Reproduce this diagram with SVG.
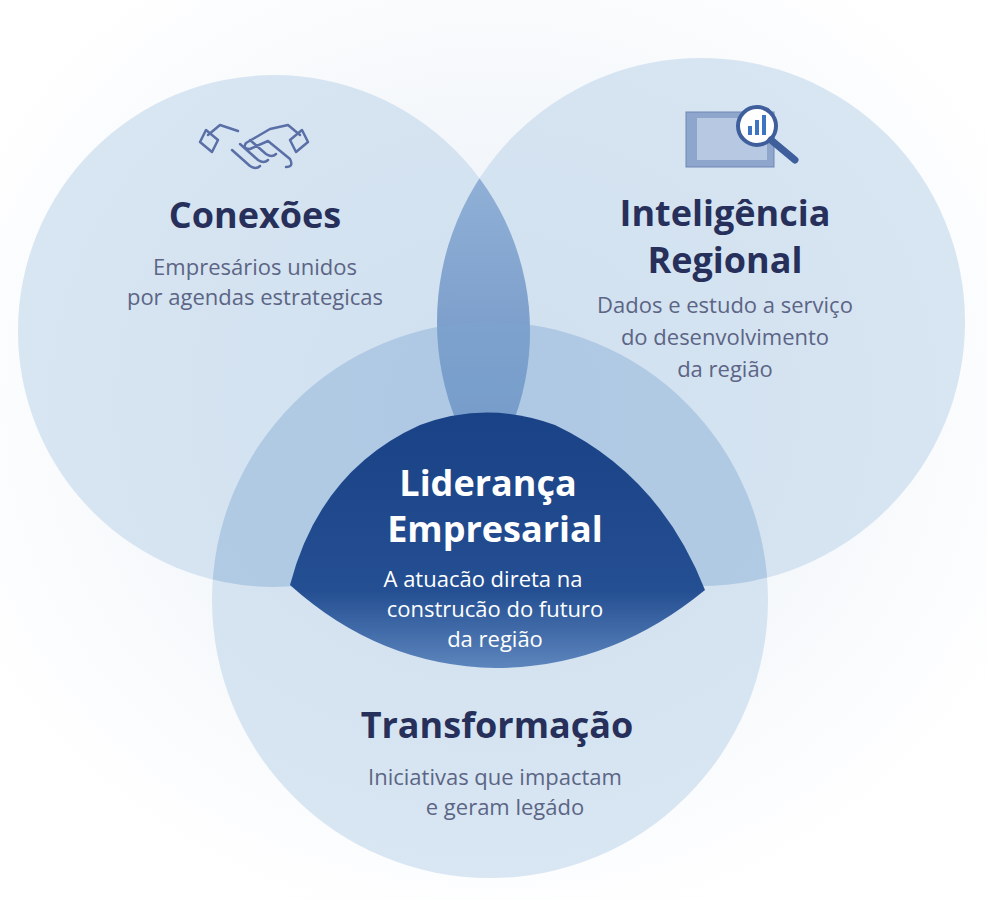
<svg xmlns="http://www.w3.org/2000/svg" width="987" height="900" viewBox="0 0 987 900">
<defs>
<style>
.t{font-family:"Open Sans","Noto Sans",sans-serif;font-weight:700;fill:#27305a;text-anchor:middle;font-size:36px}
.s{font-family:"Open Sans","Noto Sans",sans-serif;fill:#5c6585;text-anchor:middle;font-size:22px}
.w{fill:#fff}
.ic{fill:none;stroke:#5a6fa6;stroke-width:2.5;stroke-linejoin:round;stroke-linecap:round}
</style>
<clipPath id="cL"><circle cx="274" cy="331" r="256"/></clipPath>
<clipPath id="cR"><circle cx="701" cy="322" r="264"/></clipPath>
<radialGradient id="bg" cx="0.5" cy="0.45" r="0.6"><stop offset="0" stop-color="#e8eff6"/><stop offset="1" stop-color="#ffffff"/></radialGradient>
<linearGradient id="dk" x1="0" y1="0" x2="0" y2="1"><stop offset="0" stop-color="#1a4286"/><stop offset="0.7" stop-color="#244f92"/><stop offset="1" stop-color="#5d86bd"/></linearGradient>
<linearGradient id="ln" x1="0" y1="0" x2="0" y2="1"><stop offset="0" stop-color="#8fb2da"/><stop offset="1" stop-color="#3e68a8"/></linearGradient>
</defs>
<rect width="987" height="900" fill="url(#bg)"/>
<g id="conexoes">
<circle cx="274" cy="331" r="256" fill="#bcd3ea" fill-opacity="0.55"/>
<g class="ic">
<path d="M208 135 l12 -10 18 6 M300 135 l-12 -10 -18 4 l-24 14 q-4 6 4 6 l18 -8 22 18 q4 8 -4 8 M232 150 l18 16 q6 4 10 0 M240 144 l18 16 q6 4 10 0 M250 140 l16 14 q6 4 10 0"/>
<path d="M206 130 l-6 12 12 10 6 -12z M302 130 l6 12 -12 10 -6 -12z"/>
</g>
<text class="t" x="255" y="228">Conexões</text>
<text class="s" x="255" y="275">Empresários unidos</text>
<text class="s" x="255" y="305">por agendas estrategicas</text>
</g>
<g id="inteligencia">
<circle cx="701" cy="322" r="264" fill="#bcd3ea" fill-opacity="0.55"/>
<rect x="686" y="112" width="88" height="55" fill="#8ea6cc" stroke="#6e87b6"/>
<rect x="697" y="118" width="70" height="42" fill="#b7c8e3"/>
<circle cx="757" cy="126" r="19" fill="#fff" stroke="#3f5f9c" stroke-width="4"/>
<line x1="771" y1="140" x2="795" y2="160" stroke="#3f5f9c" stroke-width="7" stroke-linecap="round"/>
<rect x="748" y="126" width="4" height="9" fill="#3f74c2"/><rect x="755" y="120" width="4" height="15" fill="#3f74c2"/><rect x="762" y="115" width="4" height="20" fill="#3f74c2"/>
<text class="t" x="725" y="226">Inteligência</text>
<text class="t" x="725" y="273">Regional</text>
<text class="s" x="725" y="313">Dados e estudo a serviço</text>
<text class="s" x="725" y="345">do desenvolvimento</text>
<text class="s" x="725" y="377">da região</text>
</g>
<g id="transformacao">
<circle cx="490" cy="600" r="278" fill="#bcd3ea" fill-opacity="0.55"/>
<text class="t" x="497" y="738">Transformação</text>
<text class="s" x="495" y="785">Iniciativas que impactam</text>
<text class="s" x="505" y="815">e geram legádo</text>
</g>
<g id="overlaps">
<g clip-path="url(#cL)"><circle cx="701" cy="322" r="264" fill="url(#ln)" fill-opacity="0.75"/></g>
<g clip-path="url(#cL)"><circle cx="490" cy="600" r="278" fill="#7fa5d0" fill-opacity="0.3"/></g>
<g clip-path="url(#cR)"><circle cx="490" cy="600" r="278" fill="#7fa5d0" fill-opacity="0.3"/></g>
</g>
<g id="lideranca">
<path d="M290 585 Q320 470 420 425 Q487 400 555 425 Q660 475 705 590 Q610 668 495 668 Q380 666 290 585 Z" fill="url(#dk)"/>
<text class="t w" x="488" y="496">Liderança</text>
<text class="t w" x="495" y="542">Empresarial</text>
<text class="s w" x="483" y="587">A atuacão direta na</text>
<text class="s w" x="495" y="617">construcão do futuro</text>
<text class="s w" x="495" y="647">da região</text>
</g>
<g id="connectors"/>
</svg>
